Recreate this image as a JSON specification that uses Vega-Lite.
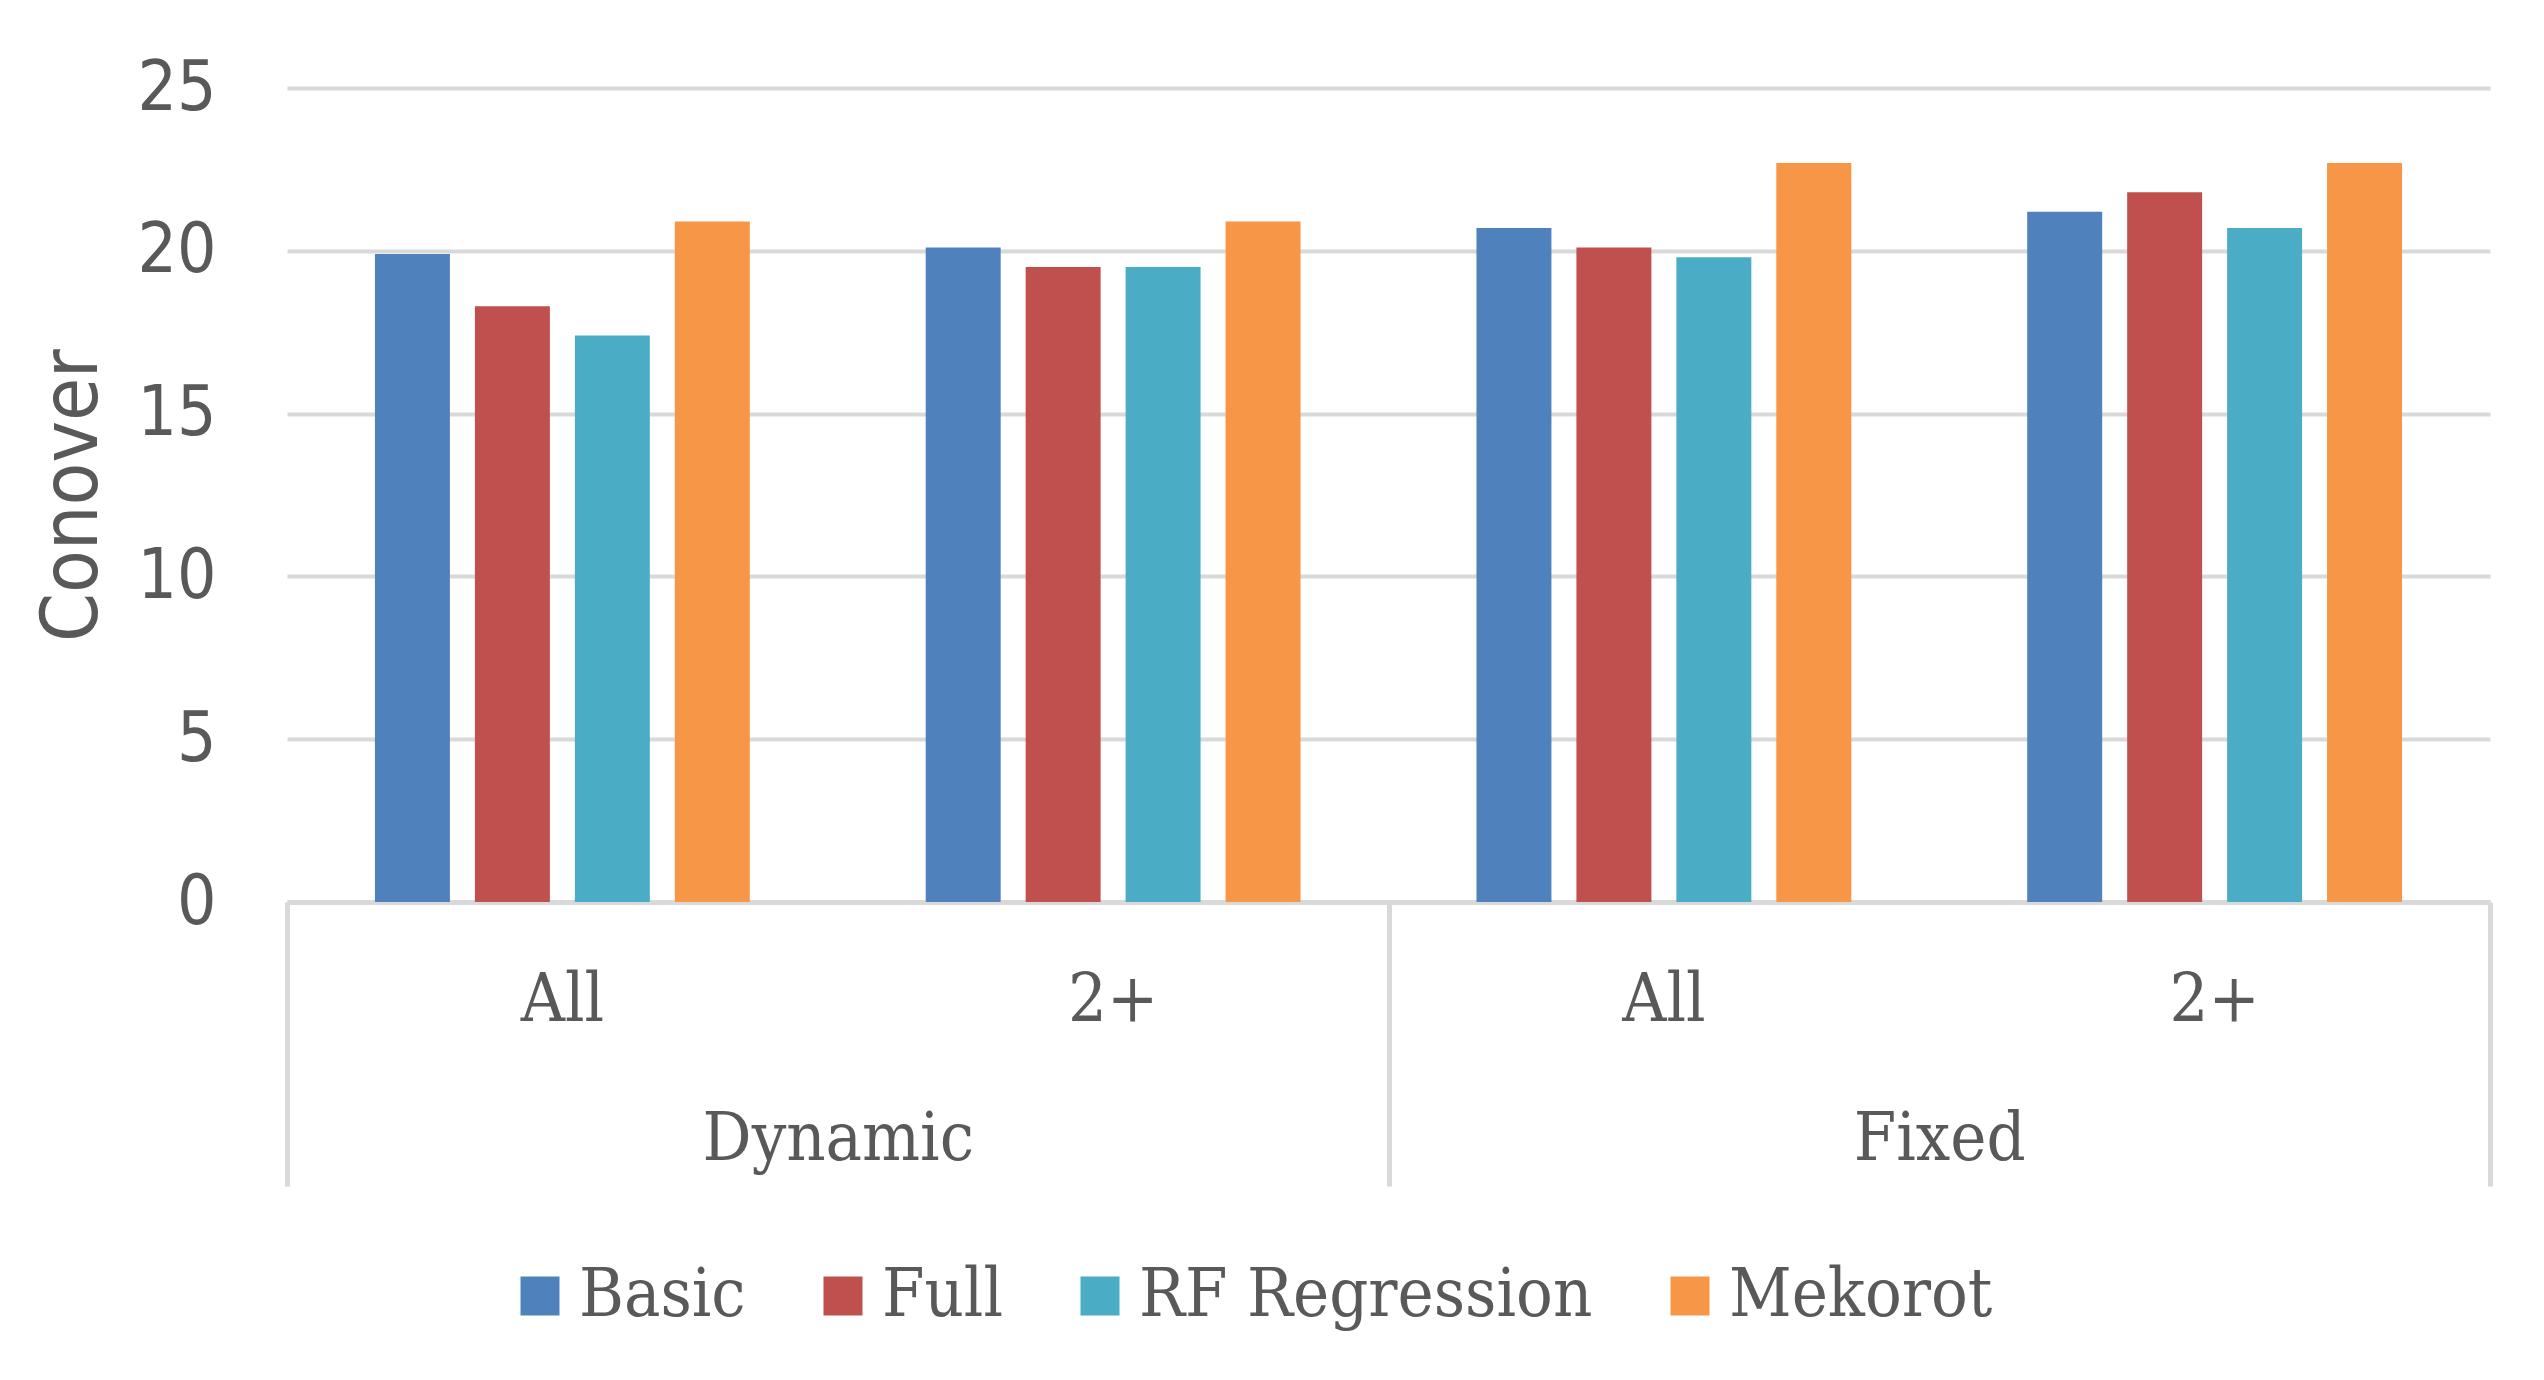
{
  "$schema": "https://vega.github.io/schema/vega-lite/v6.json",
  "width": 2203,
  "height": 814,
  "autosize": {"type": "none"},
  "padding": {"left": 287, "top": 88, "right": 54, "bottom": 478},
  "background": "white",
  "config": {"view": {"stroke": null}},
  "layer": [
    {
      "data": {
        "values": [
          {"cat": "Dynamic|All", "series": "Basic", "value": 19.9},
          {"cat": "Dynamic|All", "series": "Full", "value": 18.3},
          {"cat": "Dynamic|All", "series": "RF Regression", "value": 17.4},
          {"cat": "Dynamic|All", "series": "Mekorot", "value": 20.9},
          {"cat": "Dynamic|2+", "series": "Basic", "value": 20.1},
          {"cat": "Dynamic|2+", "series": "Full", "value": 19.5},
          {"cat": "Dynamic|2+", "series": "RF Regression", "value": 19.5},
          {"cat": "Dynamic|2+", "series": "Mekorot", "value": 20.9},
          {"cat": "Fixed|All", "series": "Basic", "value": 20.7},
          {"cat": "Fixed|All", "series": "Full", "value": 20.1},
          {"cat": "Fixed|All", "series": "RF Regression", "value": 19.8},
          {"cat": "Fixed|All", "series": "Mekorot", "value": 22.7},
          {"cat": "Fixed|2+", "series": "Basic", "value": 21.2},
          {"cat": "Fixed|2+", "series": "Full", "value": 21.8},
          {"cat": "Fixed|2+", "series": "RF Regression", "value": 20.7},
          {"cat": "Fixed|2+", "series": "Mekorot", "value": 22.7}
        ]
      },
      "mark": {"type": "bar"},
      "encoding": {
        "x": {
          "field": "cat",
          "type": "nominal",
          "sort": ["Dynamic|All", "Dynamic|2+", "Fixed|All", "Fixed|2+"],
          "scale": {"type": "band", "paddingInner": 0, "paddingOuter": 0},
          "axis": {
            "title": null,
            "labelExpr": "split(datum.label, '|')[1]",
            "ticks": false,
            "grid": false,
            "labelAngle": 0,
            "labelPadding": 118,
            "labelBaseline": "alphabetic",
            "labelFont": "DejaVu Serif Condensed",
            "labelFontSize": 68,
            "labelColor": "#595959",
            "labelLimit": 1000,
            "domainColor": "#D9D9D9",
            "domainWidth": 5
          }
        },
        "xOffset": {
          "field": "series",
          "type": "nominal",
          "sort": ["Basic", "Full", "RF Regression", "Mekorot"],
          "scale": {"paddingInner": 0.25, "paddingOuter": 0.88}
        },
        "y": {
          "field": "value",
          "type": "quantitative",
          "scale": {"domain": [0, 25], "nice": false, "zero": true},
          "axis": {
            "title": "Conover",
            "values": [0, 5, 10, 15, 20, 25],
            "grid": true,
            "gridColor": "#D9D9D9",
            "gridWidth": 4,
            "domain": false,
            "ticks": false,
            "labelPadding": 71,
            "labelFont": "DejaVu Sans Condensed",
            "labelFontSize": 69,
            "labelColor": "#595959",
            "titleFont": "DejaVu Sans Condensed",
            "titleFontSize": 78,
            "titleFontWeight": "normal",
            "titleColor": "#595959",
            "titleX": -191,
            "titleY": 407,
            "titleAngle": -90,
            "titleAlign": "center",
            "titleBaseline": "alphabetic"
          }
        },
        "color": {
          "field": "series",
          "type": "nominal",
          "sort": ["Basic", "Full", "RF Regression", "Mekorot"],
          "scale": {
            "domain": ["Basic", "Full", "RF Regression", "Mekorot"],
            "range": ["#4F81BD", "#C0504D", "#4BACC6", "#F79646"]
          },
          "legend": {
            "orient": "none",
            "legendX": 219,
            "legendY": 1174,
            "direction": "horizontal",
            "title": null,
            "symbolType": "square",
            "symbolSize": 1521,
            "symbolStrokeWidth": 0,
            "symbolOpacity": 1,
            "labelFont": "DejaVu Serif Condensed",
            "labelFontSize": 68,
            "labelColor": "#595959",
            "labelOffset": 5,
            "columnPadding": 63,
            "labelLimit": 1000,
            "padding": 0
          }
        }
      }
    },
    {
      "data": {"values": [{"group": "Dynamic"}, {"group": "Fixed"}]},
      "mark": {"type": "point", "opacity": 0},
      "encoding": {
        "x": {
          "field": "group",
          "type": "nominal",
          "scale": {"type": "band", "paddingInner": 0, "paddingOuter": 0},
          "axis": {
            "title": null,
            "orient": "bottom",
            "tickBand": "extent",
            "ticks": true,
            "tickSize": 284,
            "tickWidth": 5,
            "tickColor": "#D9D9D9",
            "domain": false,
            "grid": false,
            "labelAngle": 0,
            "labelPadding": -27,
            "labelBaseline": "alphabetic",
            "labelFont": "DejaVu Serif Condensed",
            "labelFontSize": 68,
            "labelColor": "#595959",
            "labelLimit": 1000
          }
        }
      }
    }
  ],
  "resolve": {"scale": {"x": "independent"}, "axis": {"x": "independent"}}
}
